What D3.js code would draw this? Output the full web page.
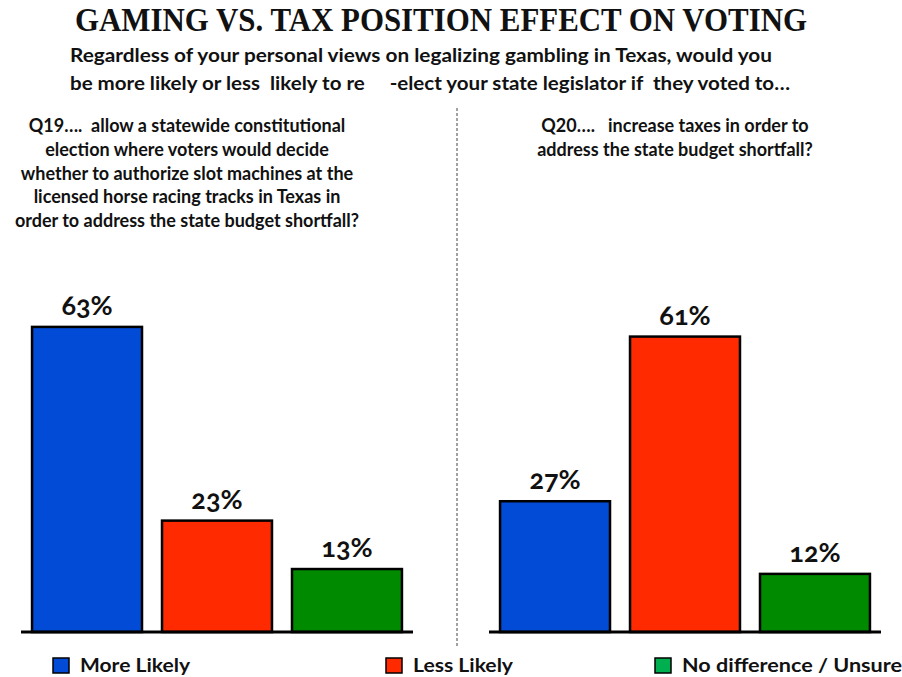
<!DOCTYPE html>
<html>
<head>
<meta charset="utf-8">
<script src="https://cdn.jsdelivr.net/npm/d3@7"></script>
<style>
  body { margin: 0; background: #fff; }
  svg { display: block; }
  .pct { font-feature-settings: "onum"; font-variant-numeric: oldstyle-nums; }
</style>
</head>
<body>
<svg id="chart"></svg>
<script>
const width = 902;
const height = 677;

// data
const categories = ["More Likely", "Less Likely", "No difference / Unsure"];
const q19Values = [63, 23, 13];
const q20Values = [27, 61, 12];
const barColors = ["#024bd6", "#ff2a00", "#008a00"];
const legendColors = ["#024bd6", "#ff2a00", "#00b050"];

const titleText = "GAMING VS. TAX POSITION EFFECT ON VOTING";
const subtitleLines = [
  "Regardless of your personal views on legalizing gambling in Texas, would you",
  "be more likely or less  likely to re     -elect your state legislator if  they voted to\u2026"
];
const q19Lines = [
  "Q19\u2026.  allow a statewide constitutional",
  "election where voters would decide",
  "whether to authorize slot machines at the",
  "licensed horse racing tracks in Texas in",
  "order to address the state budget shortfall?"
];
const q20Lines = [
  "Q20\u2026.   increase taxes in order to",
  "address the state budget shortfall?"
];

const svg = d3.select("#chart")
  .attr("width", width)
  .attr("height", height);

const sans = "Lato, 'Open Sans', sans-serif";

// title
svg.append("text")
  .attr("x", 441)
  .attr("y", 31)
  .attr("text-anchor", "middle")
  .attr("font-family", "'Liberation Serif', 'Times New Roman', serif")
  .attr("font-weight", "bold")
  .attr("font-size", 33)
  .attr("textLength", 732)
  .attr("lengthAdjust", "spacingAndGlyphs")
  .attr("fill", "#111")
  .text(titleText);

// subtitle
const subWidths = [702, 720];
svg.selectAll("text.sub")
  .data(subtitleLines)
  .join("text")
  .attr("class", "sub")
  .attr("x", 70)
  .attr("y", (d, i) => 62 + i * 28)
  .attr("font-family", sans)
  .attr("font-weight", "bold")
  .attr("font-size", 18.5)
  .attr("textLength", (d, i) => subWidths[i])
  .attr("lengthAdjust", "spacingAndGlyphs")
  .attr("fill", "#111")
  .style("white-space", "pre")
  .text(d => d);

// question texts
function questionBlock(lines, cx) {
  svg.append("g").selectAll("text")
    .data(lines)
    .join("text")
    .attr("x", cx)
    .attr("y", (d, i) => 132 + i * 23.8)
    .attr("text-anchor", "middle")
    .attr("font-family", sans)
    .attr("font-weight", "bold")
    .attr("font-size", 18)
    .attr("fill", "#111")
    .style("white-space", "pre")
    .text(d => d);
}
questionBlock(q19Lines, 187);
questionBlock(q20Lines, 675);

// divider
svg.append("line")
  .attr("x1", 457).attr("x2", 457)
  .attr("y1", 108).attr("y2", 646)
  .attr("stroke", "#444")
  .attr("stroke-width", 1)
  .attr("stroke-dasharray", "3,2");

const y = d3.scaleLinear()
  .domain([0, 70])
  .range([632, 293]);

function panel(values, x0, x1) {
  const x = d3.scaleBand()
    .domain(categories)
    .range([x0, x1])
    .paddingInner(0.154)
    .paddingOuter(0.085);

  const g = svg.append("g");
  const data = categories.map((c, i) => ({ c, v: values[i], color: barColors[i] }));

  g.selectAll("rect")
    .data(data)
    .join("rect")
    .attr("x", d => x(d.c))
    .attr("y", d => y(d.v))
    .attr("width", x.bandwidth())
    .attr("height", d => y(0) - y(d.v))
    .attr("fill", d => d.color)
    .attr("stroke", "#000")
    .attr("stroke-width", 2.5);

  g.selectAll("text")
    .data(data)
    .join("text")
    .attr("class", "pct")
    .attr("x", d => x(d.c) + x.bandwidth() / 2)
    .attr("y", d => y(d.v) - 12)
    .attr("text-anchor", "middle")
    .attr("font-family", sans)
    .attr("font-weight", "bold")
    .attr("font-size", 27)
    .attr("fill", "#111")
    .text(d => d.v + "%");

  g.append("line")
    .attr("x1", x0).attr("x2", x1)
    .attr("y1", y(0)).attr("y2", y(0))
    .attr("stroke", "#000")
    .attr("stroke-width", 3);
}
panel(q19Values, 21, 413);
panel(q20Values, 489, 881);

// legend
const legendX = [53, 386, 655];
const legendW = [110, 100, 220];
const legend = svg.append("g").selectAll("g")
  .data(categories)
  .join("g")
  .attr("transform", (d, i) => `translate(${legendX[i]},658)`);

legend.append("rect")
  .attr("width", 16)
  .attr("height", 15)
  .attr("fill", (d, i) => legendColors[i])
  .attr("stroke", "#000")
  .attr("stroke-width", 1.5);

legend.append("text")
  .attr("x", 27)
  .attr("y", 14)
  .attr("font-family", sans)
  .attr("font-weight", "bold")
  .attr("font-size", 19)
  .attr("textLength", (d, i) => legendW[i])
  .attr("lengthAdjust", "spacingAndGlyphs")
  .attr("fill", "#111")
  .text(d => d);
</script>
</body>
</html>
